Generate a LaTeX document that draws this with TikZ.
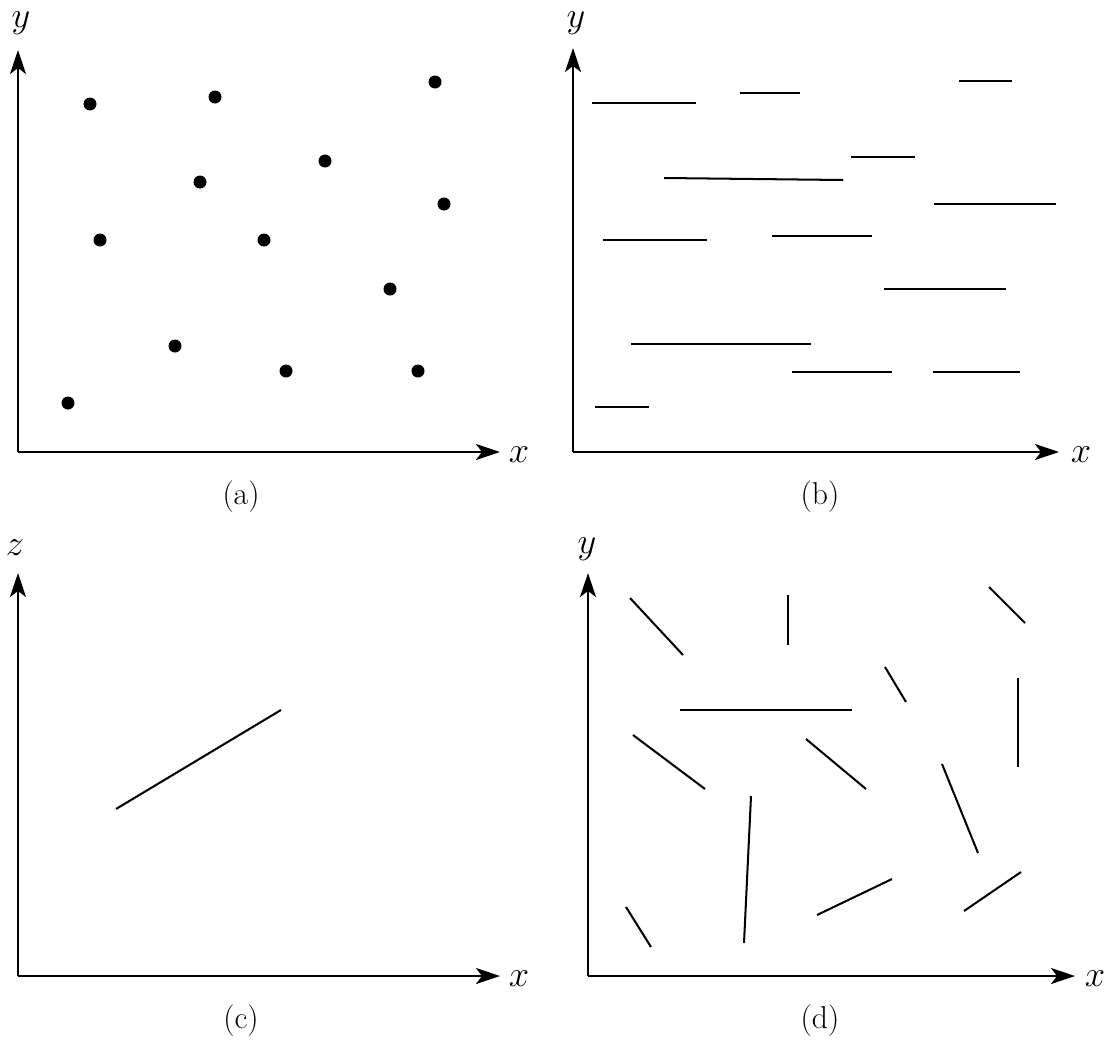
\documentclass[tikz,border=0pt]{standalone}
\usepackage{tikz}
\usetikzlibrary{arrows.meta,positioning}

\begin{document}
\begin{tikzpicture}[x=0.02cm,y=-0.02cm,
    axis/.style={line width=1.5pt,-{Stealth[length=0.48cm,width=0.32cm,inset=0.12cm]}},
    seg/.style={line width=1.15pt},
    dot/.style={fill=black},
    axlabel/.style={font=\fontsize{22}{22}\selectfont,inner sep=0pt,anchor=base},
    subcap/.style={font=\fontsize{18}{18}\selectfont,inner sep=0pt}]
    \useasboundingbox (0,0) rectangle (1111,1048);

    % (a) scattered points
    \coordinate (ao) at (18,452);
    \coordinate (ay) at (18,50);
    \coordinate (ax) at (500,452);
    \draw[axis] (ao) -- (ay);
    \draw[axis] (ao) -- (ax);
    \node[axlabel] (aylab) at (21,28) {$y$};
    \node[axlabel] (axlab) at (519,462) {$x$};
    \foreach \px/\py in {90/104,215/97,435/82,200/182,325/161,444/204,100/240,
        264/240,390/289,175/346,286/371,418/371,68/403}
        \fill[dot] (\px,\py) circle (6.5);
    \node[subcap] (acap) at (241,497) {(a)};

    % (b) horizontal segments
    \coordinate (bo) at (573,452);
    \coordinate (by) at (573,48);
    \coordinate (bx) at (1059,452);
    \draw[axis] (bo) -- (by);
    \draw[axis] (bo) -- (bx);
    \node[axlabel] (bylab) at (576,28) {$y$};
    \node[axlabel] (bxlab) at (1081,462) {$x$};
    \foreach \xa/\ya/\xb/\yb in {592/103/696/103,740/93/800/93,959/81/1012/81,
        664/178/843/180,851/157/915/157,934/204/1056/204,603/240/707/240,
        772/236/872/236,884/289/1006/289,631/344/811/344,792/372/892/372,
        933/372/1020/372,595/407/649/407}
        \draw[seg] (\xa,\ya) -- (\xb,\yb);
    \node[subcap] (bcap) at (820,497) {(b)};

    % (c) one segment
    \coordinate (co) at (18,976);
    \coordinate (cz) at (18,573);
    \coordinate (cx) at (500,976);
    \draw[axis] (co) -- (cz);
    \draw[axis] (co) -- (cx);
    \node[axlabel] (czlab) at (15,555) {$z$};
    \node[axlabel] (cxlab) at (519,986) {$x$};
    \draw[seg] (116,809) -- (281,710);
    \node[subcap] (ccap) at (241,1021) {(c)};

    % (d) segments at random angles
    \coordinate (do) at (588,976);
    \coordinate (dy) at (588,573);
    \coordinate (dx) at (1075,976);
    \draw[axis] (do) -- (dy);
    \draw[axis] (do) -- (dx);
    \node[axlabel] (dylab) at (587,553) {$y$};
    \node[axlabel] (dxlab) at (1095,986) {$x$};
    \foreach \xa/\ya/\xb/\yb in {630/598/683/655,788/595/788/645,989/587/1025/623,
        885/667/906/702,680/710/852/710,1018/678/1018/767,633/735/705/789,
        806/739/866/789,942/764/978/853,751/796/744/943,817/915/892/879,
        964/911/1021/872,626/907/651/947}
        \draw[seg] (\xa,\ya) -- (\xb,\yb);
    \node[subcap] (dcap) at (820,1021) {(d)};
\end{tikzpicture}
\end{document}
